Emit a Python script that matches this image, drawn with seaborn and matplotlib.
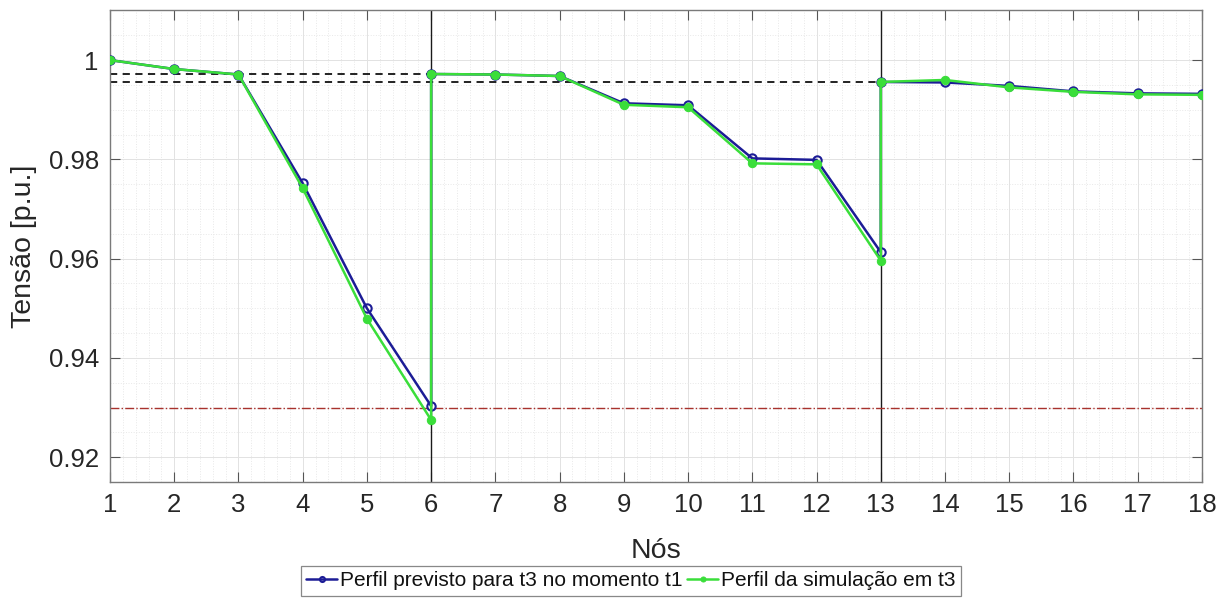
import matplotlib
matplotlib.use("Agg")
import matplotlib.pyplot as plt
from matplotlib.ticker import MultipleLocator
import seaborn as sns
import pandas as pd

# Node sequence (nodes 6 and 13 repeated where a new branch starts)
nos = [1, 2, 3, 4, 5, 6, 6, 7, 8, 9, 10, 11, 12, 13, 13, 14, 15, 16, 17, 18]

previsto = [1.0000, 0.9982, 0.9971, 0.9752, 0.9500, 0.9303,
            0.9972, 0.9971, 0.9968, 0.9913, 0.9909, 0.9802, 0.9799, 0.9613,
            0.9956, 0.9955, 0.9948, 0.9937, 0.9933, 0.9932]

simulacao = [1.0000, 0.9982, 0.9971, 0.9742, 0.9479, 0.9275,
             0.9972, 0.9971, 0.9968, 0.9910, 0.9905, 0.9792, 0.9790, 0.9596,
             0.9956, 0.9960, 0.9945, 0.9936, 0.9931, 0.9930]

rotulos = ["Perfil previsto para t3 no momento t1", "Perfil da simulação em t3"]

# Branch limits and reference voltages
ramais_x = [6, 13]
ref_tensao = [0.9972, 0.9956]
ref_fim = [6, 13]
tensao_min = 0.93

sns.set_style("ticks")
plt.rcParams["font.family"] = ["Liberation Sans", "DejaVu Sans"]

df = pd.DataFrame({"no": nos, "previsto": previsto, "simulacao": simulacao})

fig = plt.figure(figsize=(12.3, 6.05), dpi=100)
ax = fig.add_axes([0.0894, 0.2033, 0.8878, 0.7802])

# grid
ax.xaxis.set_major_locator(MultipleLocator(1))
ax.xaxis.set_minor_locator(MultipleLocator(0.2))
ax.yaxis.set_major_locator(MultipleLocator(0.02))
ax.yaxis.set_minor_locator(MultipleLocator(0.005))
ax.grid(which="major", color="#e2e2e2", linewidth=0.7, zorder=0)
ax.grid(which="minor", color="#e8e8e8", linewidth=0.7, linestyle=":", zorder=0)
ax.set_axisbelow(True)

# reference lines
for xv in ramais_x:
    ax.axvline(xv, color="#1a1a1a", linewidth=1.0, zorder=2)
for yv, xf in zip(ref_tensao, ref_fim):
    ax.hlines(yv, 1, xf, colors="#111111", linestyles=(0, (4, 3)),
              linewidth=1.3, zorder=2)
ax.axhline(tensao_min, color="#a8322d", linestyle="-.", linewidth=1.0, zorder=2)

sns.lineplot(data=df, x="no", y="previsto", sort=False, estimator=None,
             color="#1c1c96", linewidth=1.8, marker="o", markersize=6,
             markerfacecolor="none", markeredgecolor="#1c1c96",
             markeredgewidth=1.5, label=rotulos[0], ax=ax, zorder=3,
             legend=False)
sns.lineplot(data=df, x="no", y="simulacao", sort=False, estimator=None,
             color="#3ade3a", linewidth=1.8, marker="o", markersize=6,
             markerfacecolor="#3ade3a", markeredgecolor="#3ade3a",
             label=rotulos[1], ax=ax, zorder=4, legend=False)

ax.set_xlim(1, 18)
ax.set_ylim(0.915, 1.0101)
ax.set_xticks(range(1, 19))
ax.set_yticks([0.92, 0.94, 0.96, 0.98, 1.0])
ax.set_yticklabels(["0.92", "0.94", "0.96", "0.98", "1"])

ax.tick_params(which="major", direction="in", length=7, width=0.8,
               top=True, right=True, labelsize=18.5, colors="#555555",
               labelcolor="#262626", pad=8)
ax.tick_params(which="minor", length=0, top=True, right=True)
for sp in ax.spines.values():
    sp.set_visible(True)
    sp.set_color("#7a7a7a")
    sp.set_linewidth(1.0)

ax.set_xlabel("Nós", fontsize=20.5, color="#262626", labelpad=15)
ax.set_ylabel("Tensão [p.u.]", fontsize=20.5, color="#262626", labelpad=8)

handles = ax.get_lines()
h_prev = [l for l in handles if l.get_label() == rotulos[0]][0]
h_sim = [l for l in handles if l.get_label() == rotulos[1]][0]
leg = fig.legend([h_prev, h_sim], rotulos, loc="center",
                 bbox_to_anchor=(0.513, 0.04), ncol=2, fontsize=15,
                 frameon=True, fancybox=False, edgecolor="#6a6a6a",
                 handlelength=1.5, handletextpad=0.15, columnspacing=0.2,
                 borderpad=0.25, markerscale=0.6)
leg.get_frame().set_linewidth(0.9)
for t in leg.get_texts():
    t.set_color("#111111")

fig.savefig("out.png", dpi=100, facecolor="white")
